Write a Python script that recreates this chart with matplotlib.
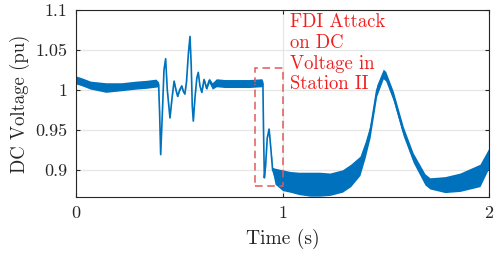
import numpy as np
import matplotlib
matplotlib.use("Agg")
import matplotlib.pyplot as plt
from matplotlib.patches import Rectangle

plt.rcParams["font.family"] = ["cmr10", "DejaVu Serif"]
plt.rcParams["axes.formatter.use_mathtext"] = True
plt.rcParams["mathtext.fontset"] = "cm"

# Trace: time (s), mean voltage (pu), half width of the noise band
t = [0.000, 0.030, 0.070, 0.145, 0.220, 0.290, 0.340, 0.387, 0.400,
     0.405, 0.410, 0.418, 0.426, 0.434, 0.442, 0.455, 0.465, 0.475, 0.484,
     0.492, 0.502, 0.512, 0.520, 0.527, 0.535, 0.544, 0.552, 0.558, 0.563,
     0.568, 0.576, 0.585, 0.592, 0.600, 0.609, 0.620, 0.632, 0.645, 0.660,
     0.680, 0.720, 0.780, 0.840, 0.900, 0.905,
     0.908, 0.912, 0.918, 0.926, 0.935, 0.944, 0.952, 0.964, 1.000, 1.036,
     1.080, 1.133, 1.180, 1.230, 1.290, 1.330, 1.375, 1.400, 1.424, 1.456,
     1.488, 1.500, 1.537, 1.585, 1.633, 1.690, 1.714, 1.787, 1.860, 1.956,
     2.000]
v = [1.0125, 1.010, 1.006, 1.003, 1.004, 1.006, 1.007, 1.0085, 1.007,
     0.970, 0.919, 0.970, 1.025, 1.039, 1.000, 0.965, 0.990, 1.011, 1.000,
     0.992, 1.000, 1.005, 0.998, 0.995, 1.010, 1.045, 1.067, 1.030, 0.980,
     0.961, 0.990, 1.015, 1.022, 1.005, 0.997, 1.013, 1.002, 1.012, 1.005,
     1.009, 1.008, 1.008, 1.008, 1.009, 1.008,
     0.950, 0.890, 0.905, 0.940, 0.951, 0.925, 0.900, 0.892, 0.887, 0.885,
     0.883, 0.882, 0.882, 0.882, 0.886, 0.893, 0.905, 0.925, 0.948, 0.999,
     1.020, 1.017, 0.992, 0.948, 0.915, 0.888, 0.883, 0.8815, 0.8845, 0.893,
     0.915]
hw = [0.005, 0.005, 0.005, 0.006, 0.005, 0.005, 0.005, 0.005, 0.003,
      0.001, 0.001, 0.001, 0.001, 0.001, 0.001, 0.001, 0.001, 0.001, 0.001,
      0.001, 0.001, 0.001, 0.001, 0.001, 0.001, 0.001, 0.001, 0.001, 0.001,
      0.001, 0.001, 0.001, 0.001, 0.001, 0.001, 0.002, 0.002, 0.003, 0.004,
      0.005, 0.005, 0.005, 0.005, 0.005, 0.003,
      0.001, 0.001, 0.001, 0.001, 0.001, 0.001, 0.003, 0.010, 0.013, 0.013,
      0.014, 0.015, 0.015, 0.014, 0.014, 0.014, 0.012, 0.010, 0.008, 0.007,
      0.006, 0.006, 0.006, 0.006, 0.006, 0.007, 0.007, 0.010, 0.0115, 0.014,
      0.0125]

# attack window box
box_t = [0.867, 1.004]
box_v = [0.880, 1.027]

xticks = [0, 1, 2]
yticks = [0.9, 0.95, 1.0, 1.05, 1.1]
yticklabels = ["0.9", "0.95", "1", "1.05", "1.1"]

blue = "#0072BD"
t = np.array(t)
v = np.array(v)
hw = np.array(hw)

fig = plt.figure(figsize=(4.98, 2.57), dpi=100)
ax = fig.add_axes([0.1526, 0.2335, 0.8294, 0.7275])

ax.fill_between(t, v - hw, v + hw, color=blue, linewidth=0)
ax.plot(t, v, color=blue, linewidth=1.2)

ax.add_patch(Rectangle((box_t[0], box_v[0]), box_t[1] - box_t[0], box_v[1] - box_v[0],
                       fill=False, edgecolor="#E05A5A", linestyle=(0, (5, 3)), linewidth=1.1))

ax.text(1.036, 1.096, "FDI Attack\non DC\nVoltage in\nStation II", color="#F02020",
        fontsize=13.5, va="top", ha="left", linespacing=1.2)

ax.set_xlim(0, 2)
ax.set_ylim(0.866, 1.1)
ax.set_xticks(xticks)
ax.set_xticklabels([str(x) for x in xticks])
ax.set_yticks(yticks)
ax.set_yticklabels(yticklabels)
ax.grid(True, color="#e6e6e6", linewidth=0.9)
ax.set_axisbelow(True)
ax.tick_params(direction="in", length=3, top=True, right=True, labelsize=13,
               color="#262626", pad=6, labelcolor="#262626")
for s in ax.spines.values():
    s.set_color("#262626")
    s.set_linewidth(0.8)

ax.set_xlabel("Time (s)", fontsize=14, color="#262626", labelpad=6)
ax.set_ylabel("DC Voltage (pu)", fontsize=13.5, color="#262626", labelpad=4)

fig.savefig("out.png", dpi=100)
